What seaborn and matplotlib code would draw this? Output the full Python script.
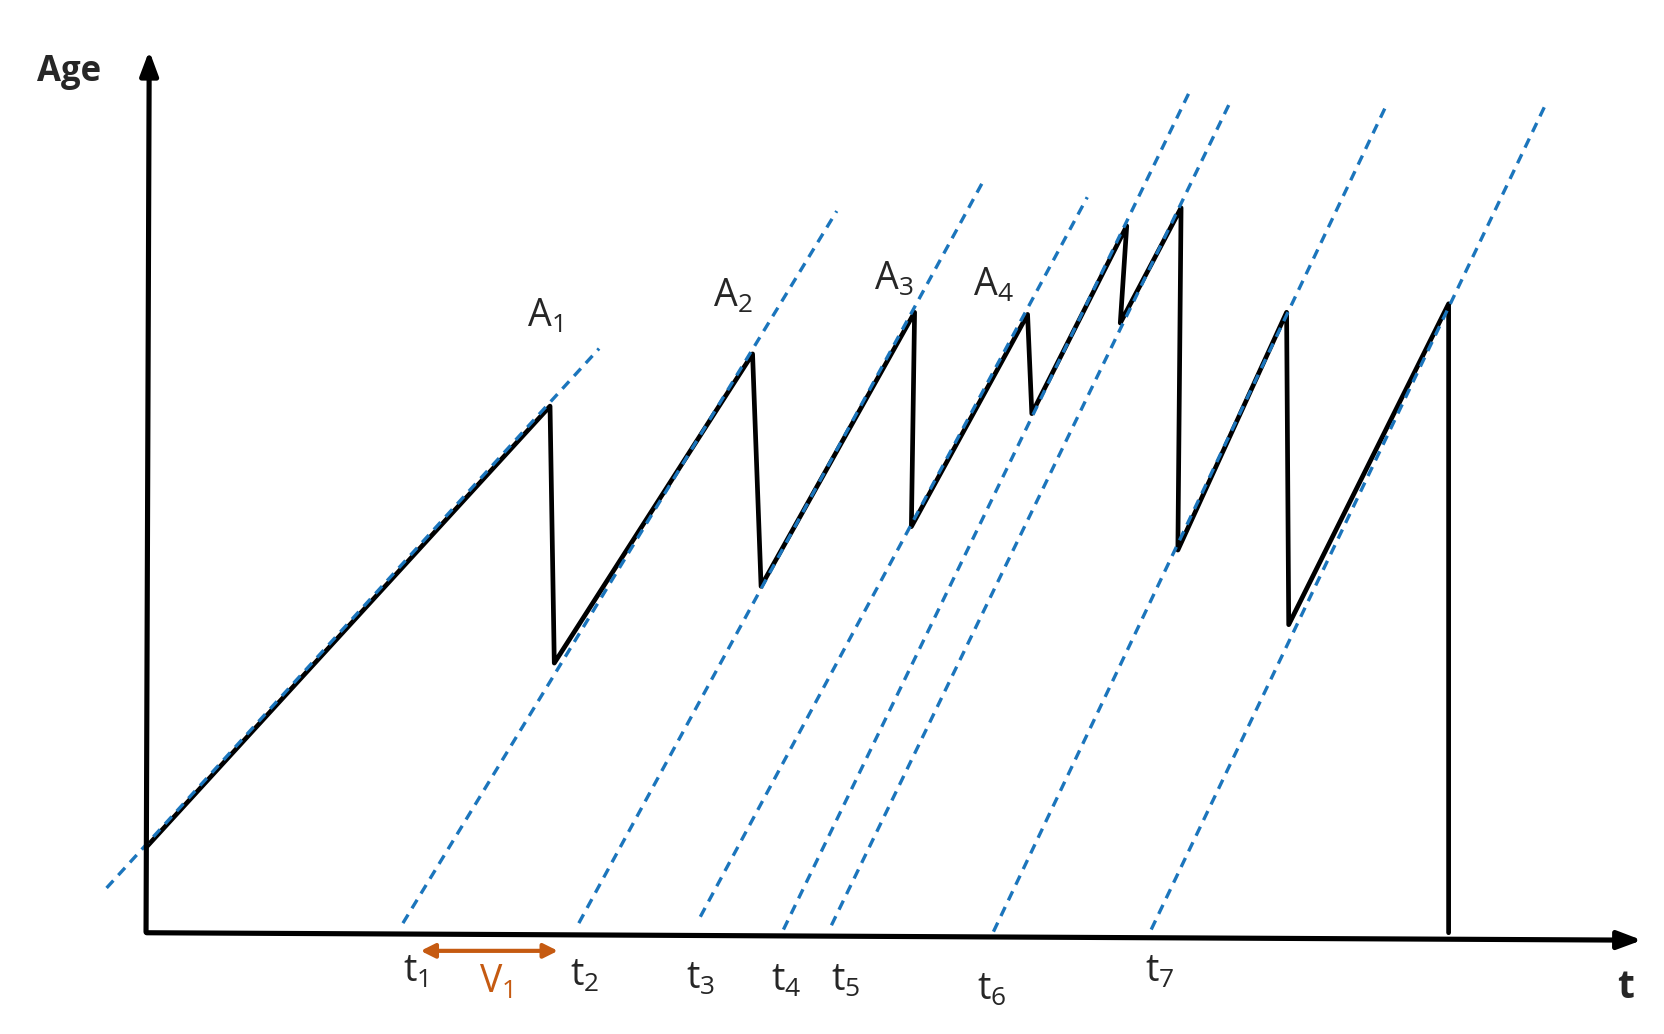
import matplotlib
matplotlib.use("Agg")
import matplotlib.pyplot as plt
import seaborn as sns
import pandas as pd

sns.set_theme(style="white")
plt.rcParams['font.family'] = ['Open Sans', 'DejaVu Sans']

# Sawtooth age process vertices (diagram coordinate space)
saw_x = [137, 516, 520, 706, 714, 858, 855, 964, 968, 1057, 1051, 1108, 1105, 1207, 1209, 1359, 1359]
saw_y = [795, 381, 622, 332, 550, 293, 494, 295, 388, 212, 303, 195, 516, 293, 586, 285, 875]

# Dashed lines (start / end)
dash_x0 = [100, 378, 543, 657, 735, 780, 932, 1080]
dash_y0 = [833, 866, 866, 860, 872, 868, 874, 872]
dash_x1 = [562, 785, 924, 1020, 1115, 1153, 1300, 1450]
dash_y1 = [327, 198, 167, 185, 88, 98, 100, 98]

peak_labels = ["1", "2", "3", "4"]
peak_x = [511, 687, 838, 932]
peak_y = [297, 278, 262, 268]

t_labels = ["1", "2", "3", "4", "5", "6", "7"]
t_x = [390, 548, 657, 738, 793, 930, 1088]
t_y = [912, 915, 918, 920, 920, 928, 912]

fig = plt.figure(figsize=(16.65, 10.34), dpi=100)
ax = fig.add_axes([0, 0, 1, 1])
ax.set_xlim(0, 1562)
ax.set_ylim(970, 0)
ax.axis("off")

blue = "#1B75BC"
for x0, y0, x1, y1 in zip(dash_x0, dash_y0, dash_x1, dash_y1):
    ax.plot([x0, x1], [y0, y1], color=blue, lw=2.4, ls=(0, (3, 2.2)), zorder=3)

df = pd.DataFrame({"t": saw_x, "age": saw_y})
sns.lineplot(data=df, x="t", y="age", sort=False, estimator=None, color="black", lw=3.4, ax=ax, zorder=2)

# axes arrows
ax.annotate("", xy=(140, 45), xytext=(137, 877),
            arrowprops=dict(arrowstyle="-|>,head_length=1.2,head_width=0.45", color="black", lw=3.7))
ax.annotate("", xy=(1543, 882), xytext=(135, 875),
            arrowprops=dict(arrowstyle="-|>,head_length=1.2,head_width=0.45", color="black", lw=3.7))

ax.text(65, 68, "Age", fontsize=25, fontweight="bold", ha="center", va="center")
ax.text(1525, 926, "t", fontsize=28, fontweight="bold", ha="center", va="center")

for lab, x, y in zip(peak_labels, peak_x, peak_y):
    ax.text(x, y, r"$\mathregular{A_{%s}}$" % lab, fontsize=27, ha="center", va="center")
for lab, x, y in zip(t_labels, t_x, t_y):
    ax.text(x, y, r"$\mathregular{t_{%s}}$" % lab, fontsize=27, ha="center", va="center")

orange = "#C55A11"
ax.annotate("", xy=(526, 892), xytext=(392, 892),
            arrowprops=dict(arrowstyle="<|-|>,head_length=0.7,head_width=0.35", color=orange, lw=3))
ax.text(465, 922, r"$\mathregular{V_1}$", fontsize=27, color=orange, ha="center", va="center")

fig.savefig("out.png", dpi=100)
